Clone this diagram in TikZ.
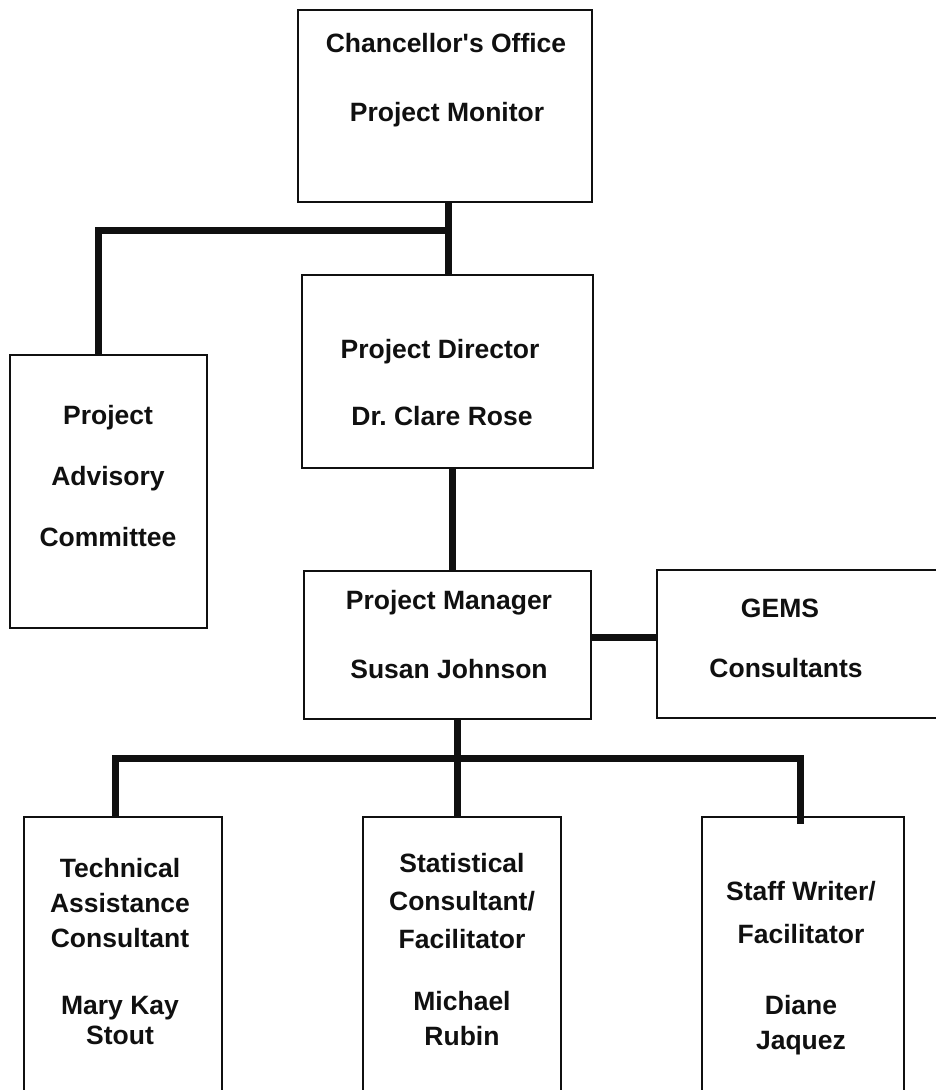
\documentclass[tikz,border=0pt]{standalone}
\usepackage{fontspec}
\setmainfont{Liberation Sans}
\usepackage{tikz}
\usetikzlibrary{positioning, calc}
\definecolor{ChartInk}{HTML}{101010}

\begin{document}
\begin{tikzpicture}[
    x=1pt, y=-1pt,
    font=\fontsize{26.5}{31}\selectfont\bfseries,
    box/.style={
      draw=ChartInk,
      line width=1.6pt,
      inner sep=0pt,
    },
    lbl/.style={
      inner sep=0pt,
      text=ChartInk,
      align=center,
    },
    stack/.style={
      lbl,
      font=\fontsize{26.5}{#1}\selectfont\bfseries,
    },
    link/.style={
      draw=ChartInk,
      line width=7pt,
    },
  ]
    \useasboundingbox (0,0) rectangle (936,1090);
    \clip (0,0) rectangle (936,1090);

    % boxes
    \node[box, minimum width=294pt, minimum height=192pt] (office) at (445,106) {};
    \node[box, minimum width=291pt, minimum height=193pt] (director) at (447.5,371.5) {};
    \node[box, minimum width=197pt, minimum height=273pt] (advisory) at (108.5,491.5) {};
    \node[box, minimum width=287pt, minimum height=148pt] (manager) at (447.5,645) {};
    \node[box, minimum width=303pt, minimum height=148pt] (gems) at (808.5,644) {};
    \node[box, minimum width=198pt, minimum height=283pt] (tech) at (123,958.5) {};
    \node[box, minimum width=198pt, minimum height=283pt] (stat) at (462,958.5) {};
    \node[box, minimum width=202pt, minimum height=283pt] (staff) at (803,958.5) {};

    % texts
    \node[lbl] (officeA) at (446,43) {Chancellor\textquotesingle s Office};
    \node[lbl] (officeB) at (447,115) {Project Monitor};
    \node[lbl] (directorA) at (440,352) {Project Director};
    \node[lbl] (directorB) at (442,416) {Dr.\ Clare Rose};
    \node[stack=61] (advisoryT) at (108,476) {Project\\Advisory\\Committee};
    \node[lbl] (managerA) at (449,603) {Project Manager};
    \node[lbl] (managerB) at (449,669) {Susan Johnson};
    \node[lbl] (gemsA) at (780,608) {GEMS};
    \node[lbl] (gemsB) at (786,668) {Consultants};
    \node[stack=35] (techA) at (120,903) {Technical\\Assistance\\Consultant};
    \node[stack=30] (techB) at (120,1020) {Mary Kay\\Stout};
    \node[stack=38] (statA) at (462,901) {Statistical\\Consultant/\\Facilitator};
    \node[stack=35] (statB) at (462,1019) {Michael\\Rubin};
    \node[stack=43] (staffA) at (801,913) {Staff Writer/\\Facilitator};
    \node[stack=35] (staffB) at (801,1025) {Diane\\Jaquez};

    % connectors
    \coordinate (split) at ($(office.south)+(3,28)$);
    \coordinate (bus) at ($(manager.south)+(9.5,39)$);
    \draw[link] ([xshift=3pt]office.south) -- ([xshift=3pt]office.south |- director.north);
    \draw[link] (split) -| ([xshift=-10pt]advisory.north);
    \draw[link] ([xshift=4.5pt]director.south) -- ([xshift=4.5pt]director.south |- manager.north);
    \draw[link] ([yshift=8pt]manager.east) -- ([yshift=8pt]manager.east -| gems.west);
    \draw[link] ([xshift=9.5pt]manager.south) -- ([xshift=9.5pt]manager.south |- stat.north);
    \draw[link] ([xshift=-8pt]tech.north) |- (bus) -| ([xshift=-3pt,yshift=-8pt]staff.north);
  \end{tikzpicture}
\end{document}
